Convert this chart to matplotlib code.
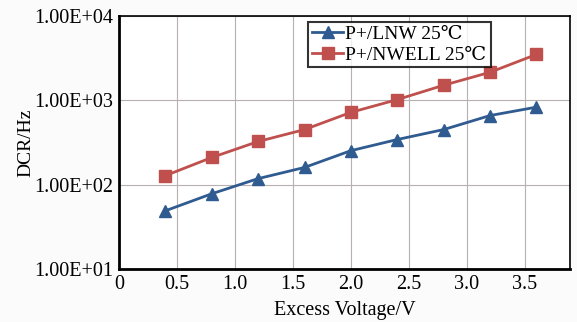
import numpy as np
import matplotlib
matplotlib.use("Agg")
import matplotlib.pyplot as plt
from matplotlib.ticker import FixedLocator

plt.rcParams['font.family'] = ['Liberation Serif', 'DejaVu Serif']

# data
voltage = [0.4, 0.8, 1.2, 1.6, 2.0, 2.4, 2.8, 3.2, 3.6]
dcr_lnw = [49, 78, 118, 160, 253, 343, 450, 660, 830]
dcr_nwell = [128, 210, 325, 450, 720, 1020, 1510, 2150, 3500]
x_ticks = [0, 0.5, 1.0, 1.5, 2.0, 2.5, 3.0, 3.5]
x_labels = ['0', '0.5', '1.0', '1.5', '2.0', '2.5', '3.0', '3.5']
y_ticks = [1e1, 1e2, 1e3, 1e4]
y_labels = ['1.00E+01', '1.00E+02', '1.00E+03', '1.00E+04']

fig = plt.figure(figsize=(5.77, 3.22), dpi=100, facecolor='#fbfbfb')
ax = fig.add_axes([119/577, 1 - 269/322, 451/577, 253/322])
ax.set_facecolor('white')

ax.plot(voltage, dcr_lnw, '-^', color='#2f5b91', ms=8.5, lw=2, label='P+/LNW 25\u2103')
ax.plot(voltage, dcr_nwell, '-s', color='#c0504d', ms=8, lw=2, label='P+/NWELL 25\u2103')

ax.set_yscale('log')
ax.set_xlim(0, 3.89)
ax.set_ylim(10, 1e4)
ax.xaxis.set_major_locator(FixedLocator(x_ticks))
ax.set_xticklabels(x_labels)
ax.yaxis.set_major_locator(FixedLocator(y_ticks))
ax.set_yticklabels(y_labels)
ax.yaxis.set_minor_locator(FixedLocator([]))
ax.tick_params(axis='both', length=0, labelsize=14.5, pad=4)
ax.grid(True, color='#b8b0b0', lw=0.8)
ax.set_axisbelow(True)

for s in ['top', 'right']:
    ax.spines[s].set_linewidth(1.2)
for s in ['left', 'bottom']:
    ax.spines[s].set_linewidth(2)

ax.set_xlabel('Excess Voltage/V', fontsize=14.5, labelpad=5)
ax.set_ylabel('DCR/Hz', fontsize=14, labelpad=0)

leg = ax.legend(loc='upper left', bbox_to_anchor=(0.42, 0.978), fontsize=14,
                frameon=True, fancybox=False, edgecolor='black',
                handlelength=1.6, handletextpad=0.1, borderpad=0.2,
                labelspacing=0.15, borderaxespad=0)
leg.get_frame().set_linewidth(1.5)

fig.savefig('out.png', dpi=100, facecolor=fig.get_facecolor())
